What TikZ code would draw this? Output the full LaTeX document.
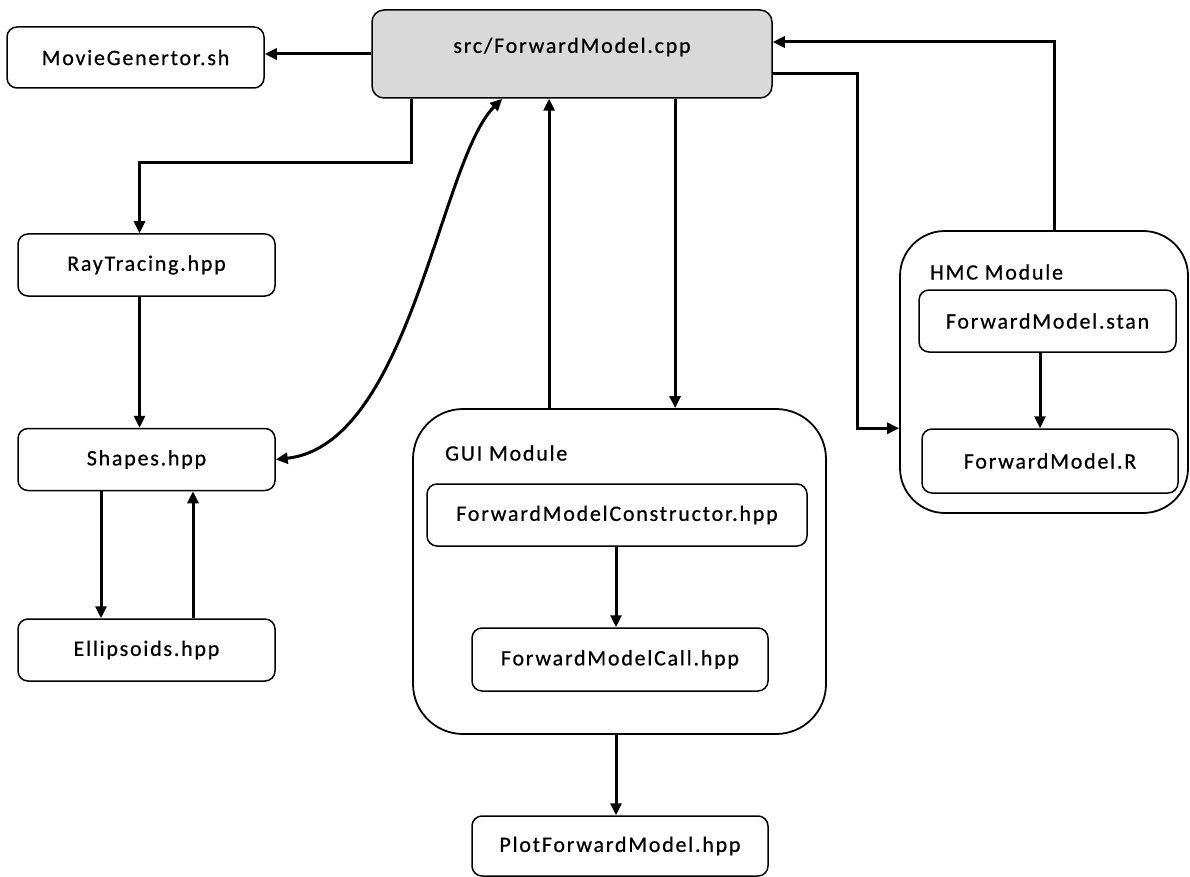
\documentclass[tikz,border=0pt]{standalone}
\usepackage{fontspec}
\setmainfont{Carlito}[LetterSpace=8,FakeBold=0.6]
\usetikzlibrary{arrows.meta}
\tikzset{
  box/.style={draw=black, line width=1.5pt, rounded corners=10pt, inner sep=0pt, font=\fontsize{22}{26}\selectfont},
  modbox/.style={draw=black, line width=1.8pt, inner sep=0pt},
  lbl/.style={inner sep=0pt, font=\fontsize{22}{26}\selectfont},
  conn/.style={line width=3pt, -{Triangle[length=12pt,width=11pt]}},
  dconn/.style={line width=3pt, {Triangle[length=12pt,width=11pt]}-{Triangle[length=12pt,width=11pt]}},
}
\begin{document}
\begin{tikzpicture}[x=1pt,y=-1pt]
\useasboundingbox (0,0) rectangle (1190,877);
% main nodes
\node[box, fill=black!15, minimum width=400pt, minimum height=88pt, rounded corners=12pt] (cpp) at (572,54) {};
\node[lbl] (cpptext) at (572,47) {src/ForwardModel.cpp};
\node[box, minimum width=257pt, minimum height=61pt] (movie) at (135.5,57.5) {MovieGenertor.sh};
\node[box, minimum width=257pt, minimum height=62pt] (ray) at (146.5,265) {RayTracing.hpp};
\node[box, minimum width=257pt, minimum height=62pt] (shapes) at (146.5,459.5) {Shapes.hpp};
\node[box, minimum width=257pt, minimum height=62pt] (ell) at (146.5,650) {Ellipsoids.hpp};
% GUI module
\node[modbox, rounded corners=50pt, minimum width=413pt, minimum height=325pt] (gui) at (619.5,571.5) {};
\node[lbl, anchor=west] (guilabel) at (445,453) {GUI Module};
\node[box, minimum width=380pt, minimum height=62pt] (cons) at (617,515) {ForwardModelConstructor.hpp};
\node[box, minimum width=296pt, minimum height=63pt] (call) at (620,659.5) {ForwardModelCall.hpp};
\node[box, minimum width=296pt, minimum height=60pt] (plot) at (620,846) {PlotForwardModel.hpp};
% HMC module
\node[modbox, rounded corners=45pt, minimum width=288pt, minimum height=282pt] (hmc) at (1044,372) {};
\node[lbl, anchor=west] (hmclabel) at (930,272) {HMC Module};
\node[box, minimum width=257pt, minimum height=62pt] (stan) at (1047.5,321) {ForwardModel.stan};
\node[box, minimum width=256pt, minimum height=64pt] (rbox) at (1050,461) {ForwardModel.R};
% connectors
\draw[conn] (cpp.west) -- (cpp.west -| movie.east);
\coordinate (c1) at ([xshift=40pt]cpp.south west);
\coordinate (r1) at ([xshift=-7pt]ray.north);
\draw[conn] (c1) -- ++(0,64) -| (r1);
\coordinate (r2) at ([xshift=-7pt]ray.south);
\draw[conn] (r2) -- (r2 |- shapes.north);
\coordinate (s1) at ([xshift=-45.5pt]shapes.south);
\draw[conn] (s1) -- (s1 |- ell.north);
\coordinate (e1) at ([xshift=46.5pt]ell.north);
\draw[conn] (e1) -- (e1 |- shapes.south);
\coordinate (c2) at ([xshift=131pt]cpp.south west);
\draw[dconn] (shapes.east) .. controls (410,445) and (440,160) .. (c2);
\coordinate (g1) at ([xshift=137pt]gui.north west);
\draw[conn] (g1) -- (g1 |- cpp.south);
\coordinate (g2) at ([xshift=263pt]gui.north west);
\draw[conn] (g2 |- cpp.south) -- (g2);
\coordinate (k1) at ([xshift=-1pt]cons.south);
\draw[conn] (k1) -- (k1 |- call.north);
\draw[conn] (k1 |- gui.south) -- (k1 |- plot.north);
\coordinate (hin) at (hmc.west |- rbox.north);
\draw[conn] ([yshift=-20pt]cpp.east) -| ([xshift=-42pt]hin) -- (hin);
\draw[conn] ([xshift=10pt]hmc.north) |- ([yshift=12pt]cpp.east);
\coordinate (t1) at ([xshift=-7.5pt]stan.south);
\draw[conn] (t1) -- (t1 |- rbox.north);
\end{tikzpicture}
\end{document}
